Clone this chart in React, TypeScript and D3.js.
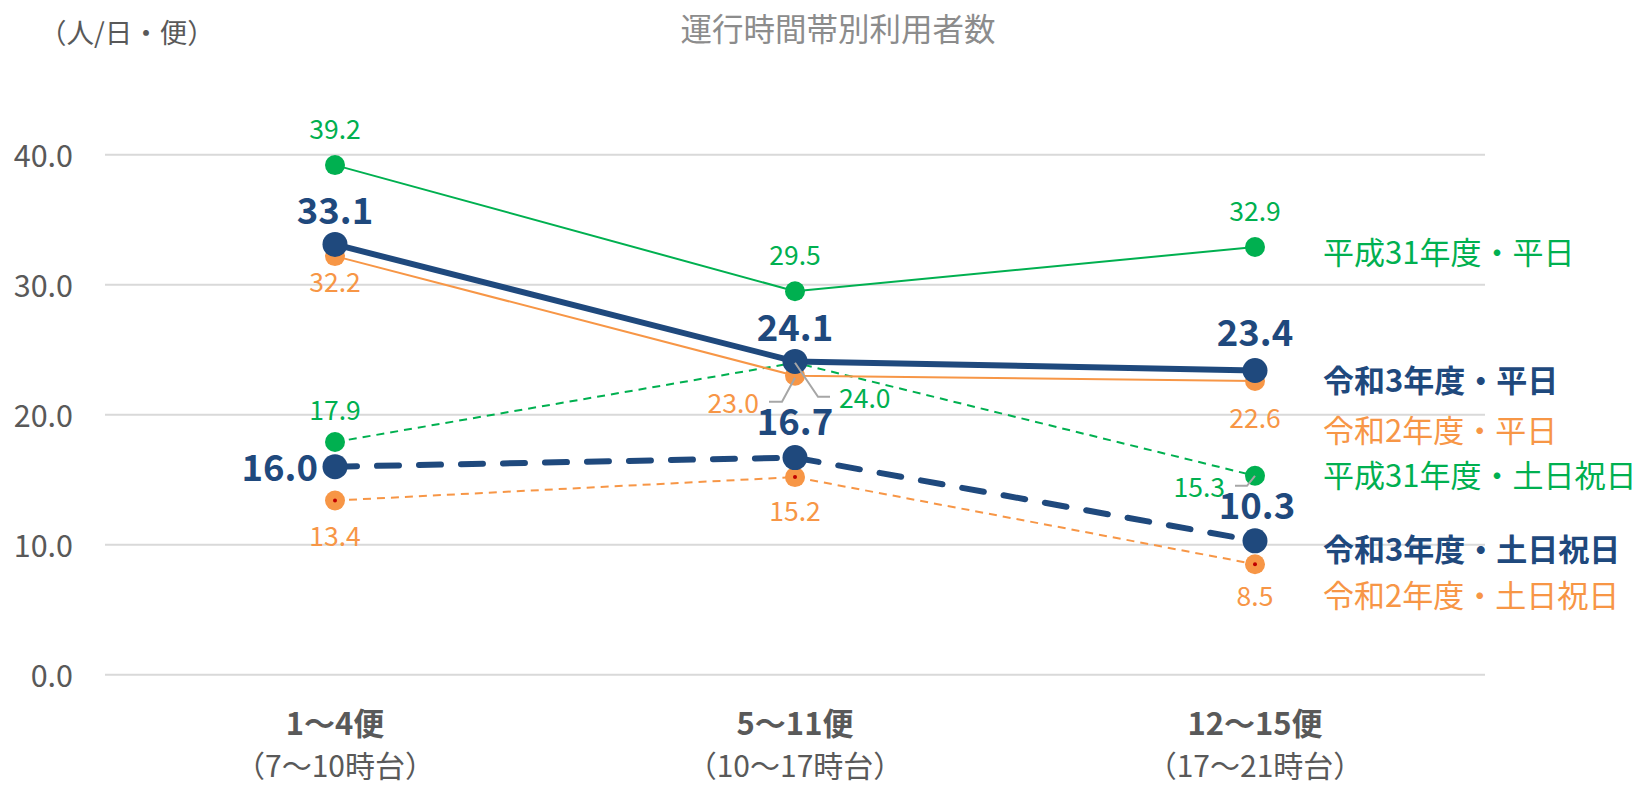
import React from "react";
import * as d3 from "d3";

const categories = ["1〜4便", "5〜11便", "12〜15便"];
const subCategories = ["（7〜10時台）", "（10〜17時台）", "（17〜21時台）"];
const yTicks = [0, 10, 20, 30, 40];

const seriesNames = [
  "平成31年度・平日",
  "平成31年度・土日祝日",
  "令和2年度・平日",
  "令和2年度・土日祝日",
  "令和3年度・平日",
  "令和3年度・土日祝日",
];
const h31Weekday = [39.2, 29.5, 32.9];
const h31Holiday = [17.9, 24.0, 15.3];
const r2Weekday = [32.2, 23.0, 22.6];
const r2Holiday = [13.4, 15.2, 8.5];
const r3Weekday = [33.1, 24.1, 23.4];
const r3Holiday = [16.0, 16.7, 10.3];
const seriesValues = [h31Weekday, h31Holiday, r2Weekday, r2Holiday, r3Weekday, r3Holiday];

const GREEN = "#00B050";
const ORANGE = "#F79646";
const NAVY = "#1F497D";

type Style = {
  color: string;
  width: number;
  dash: string | null;
  r: number;
  fontSize: number;
  bold: boolean;
  redDot?: boolean;
};
const styles: Style[] = [
  { color: GREEN, width: 2, dash: null, r: 10, fontSize: 26.5, bold: false },
  { color: GREEN, width: 2, dash: "8 6", r: 10, fontSize: 26.5, bold: false },
  { color: ORANGE, width: 2, dash: null, r: 10, fontSize: 26.5, bold: false },
  { color: ORANGE, width: 2, dash: "8 6", r: 10, fontSize: 26.5, bold: false, redDot: true },
  { color: NAVY, width: 6, dash: null, r: 12.5, fontSize: 36.5, bold: true },
  { color: NAVY, width: 6, dash: "22 20", r: 12.5, fontSize: 36.5, bold: true },
];
type Place = { dx: number; dy: number; anchor: "start" | "middle" | "end"; leader?: number[][] };
const placements: Place[][] = [
  [
    { dx: 0, dy: -38, anchor: "middle" },
    { dx: 0, dy: -38, anchor: "middle" },
    { dx: 0, dy: -38, anchor: "middle" },
  ],
  [
    { dx: 0, dy: -34, anchor: "middle" },
    { dx: 44, dy: 34, anchor: "start", leader: [[0, 0], [23, 34], [35, 34]] },
    { dx: -30, dy: 10, anchor: "end", leader: [[0, 0], [-8, 10], [-20, 10]] },
  ],
  [
    { dx: 0, dy: 24, anchor: "middle" },
    { dx: -36, dy: 26, anchor: "end", leader: [[0, 2], [-13, 26], [-26, 26]] },
    { dx: 0, dy: 36, anchor: "middle" },
  ],
  [
    { dx: 0, dy: 34, anchor: "middle" },
    { dx: 0, dy: 32, anchor: "middle" },
    { dx: 0, dy: 30, anchor: "middle" },
  ],
  [
    { dx: 0, dy: -36, anchor: "middle" },
    { dx: 0, dy: -36, anchor: "middle" },
    { dx: 0, dy: -40, anchor: "middle" },
  ],
  [
    { dx: -17, dy: -1, anchor: "end" },
    { dx: 0, dy: -38, anchor: "middle" },
    { dx: 2, dy: -37, anchor: "middle" },
  ],
];
const legendY = [250, 473, 428, 593, 378, 547];

const FONT = "'Noto Sans CJK JP', 'Noto Sans', sans-serif";

export default function App() {
  const W = 1643;
  const H = 787;
  const x = d3.scaleBand<string>().domain(categories).range([105, 1485]);
  const cx = (c: string) => (x(c) as number) + x.bandwidth() / 2;
  const y = d3.scaleLinear().domain([0, 40]).range([674.7, 154.7]);
  const fmt = d3.format(".1f");

  const drawOrder = [0, 1, 2, 3, 5, 4];

  return (
    <svg
      width={W}
      height={H}
      style={{ position: "absolute", left: 0, top: 0, background: "#fff" }}
      fontFamily={FONT}
    >
      <text x={838} y={27} textAnchor="middle" dominantBaseline="central" fontSize={31.5} fill="#8c8c8c">
        運行時間帯別利用者数
      </text>
      <text x={39} y={31} dominantBaseline="central" fontSize={27.5} fill="#595959">
        （人/日・便）
      </text>
      {yTicks.map((t) => (
        <g key={t}>
          <line x1={105} x2={1485} y1={y(t)} y2={y(t)} stroke="#d9d9d9" strokeWidth={2} />
          <text x={73} y={y(t) - 1} textAnchor="end" dominantBaseline="central" fontSize={30.5} fill="#595959">
            {fmt(t)}
          </text>
        </g>
      ))}
      {categories.map((c, i) => (
        <g key={c}>
          <text x={cx(c)} y={721} textAnchor="middle" dominantBaseline="central" fontSize={31} fontWeight="bold" fill="#595959">
            {c}
          </text>
          <text x={cx(c)} y={764} textAnchor="middle" dominantBaseline="central" fontSize={30} fill="#595959">
            {subCategories[i]}
          </text>
        </g>
      ))}
      {drawOrder.map((si) => {
        const st = styles[si];
        const vals = seriesValues[si];
        const line = d3
          .line<number>()
          .x((_, i) => cx(categories[i]))
          .y((v) => y(v));
        return (
          <g key={si}>
            <path
              d={line(vals) || ""}
              fill="none"
              stroke={st.color}
              strokeWidth={st.width}
              strokeDasharray={st.dash || undefined}
              strokeLinecap={st.width > 3 ? "round" : "butt"}
            />
            {vals.map((v, i) => (
              <g key={i}>
                <circle cx={cx(categories[i])} cy={y(v)} r={st.r} fill={st.color} />
                {st.redDot && <circle cx={cx(categories[i])} cy={y(v)} r={2} fill="#C00000" />}
              </g>
            ))}
          </g>
        );
      })}
      {drawOrder.map((si) => {
        const st = styles[si];
        const vals = seriesValues[si];
        return (
          <g key={"l" + si}>
            {vals.map((v, i) => {
              const p = placements[si][i];
              const px = cx(categories[i]);
              const py = y(v);
              return (
                <g key={i}>
                  {p.leader && (
                    <polyline
                      points={p.leader.map(([a, b]) => `${px + a},${py + b}`).join(" ")}
                      fill="none"
                      stroke="#a6a6a6"
                      strokeWidth={2}
                    />
                  )}
                  <text
                    x={px + p.dx}
                    y={py + p.dy}
                    textAnchor={p.anchor}
                    dominantBaseline="central"
                    fontSize={st.fontSize}
                    fontWeight={st.bold ? "bold" : "normal"}
                    fill={st.color}
                  >
                    {fmt(v)}
                  </text>
                </g>
              );
            })}
          </g>
        );
      })}
      {seriesNames.map((n, si) => (
        <text
          key={n}
          x={1323}
          y={legendY[si]}
          dominantBaseline="central"
          fontSize={31}
          fontWeight={styles[si].bold ? "bold" : "normal"}
          fill={styles[si].color}
        >
          {n}
        </text>
      ))}
    </svg>
  );
}
